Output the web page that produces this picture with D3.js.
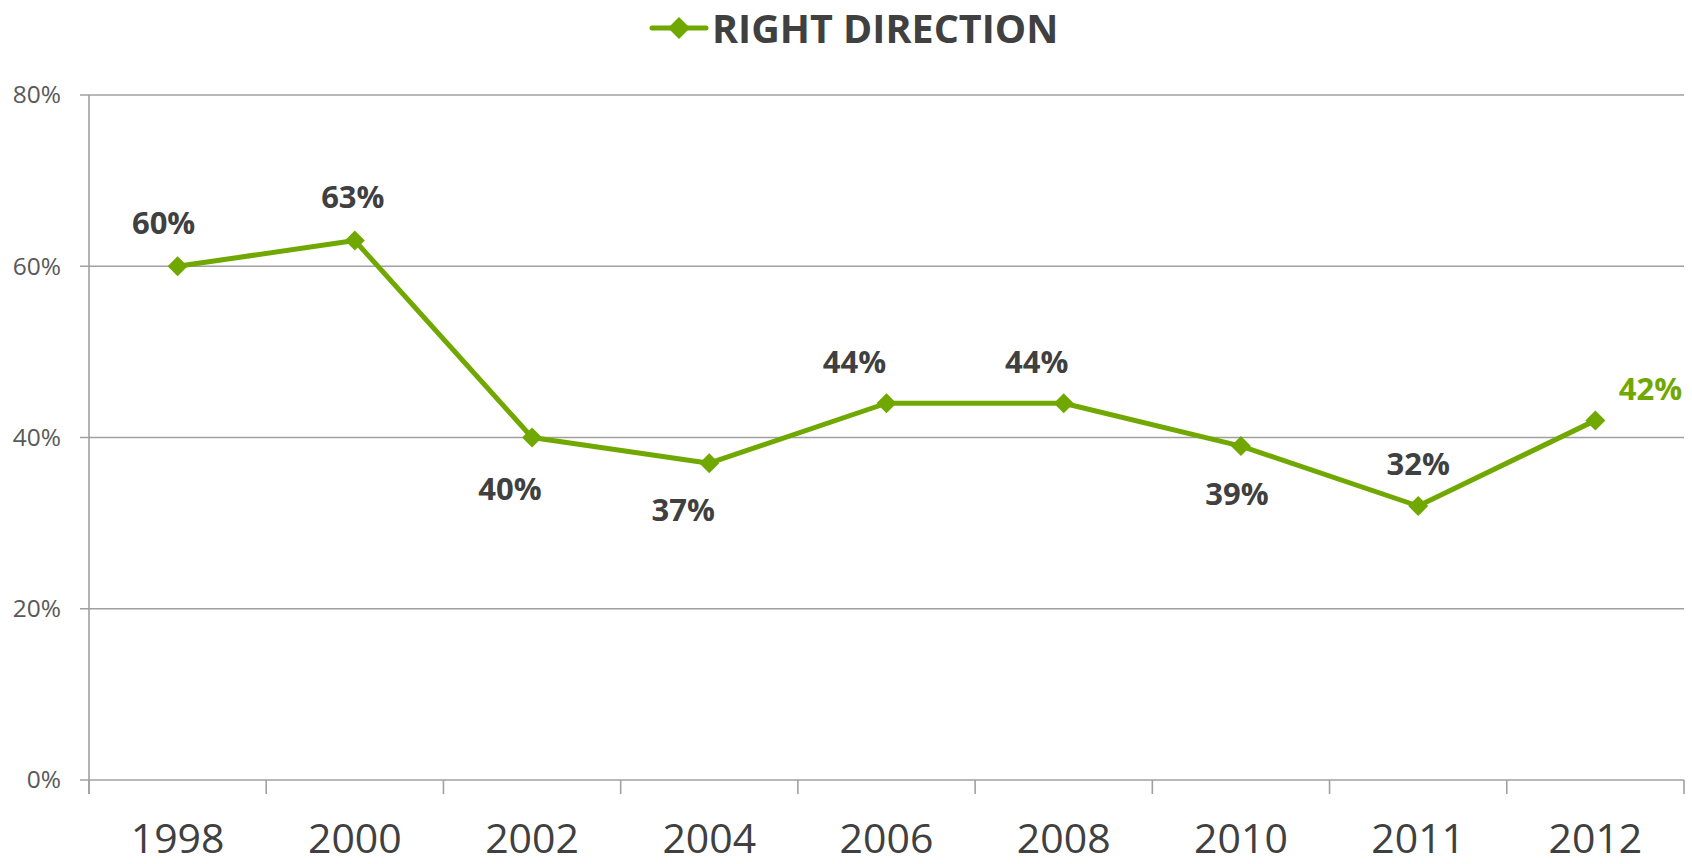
<!DOCTYPE html>
<html>
<head>
<meta charset="utf-8">
<script src="https://cdn.jsdelivr.net/npm/d3@7"></script>
<style>
  html, body { margin: 0; padding: 0; background: #ffffff; }
  svg { display: block; font-family: "Open Sans", "Noto Sans", sans-serif; }
</style>
</head>
<body>
<svg id="chart" width="1692" height="864"></svg>
<script>
// ---- data ----
const years = ["1998", "2000", "2002", "2004", "2006", "2008", "2010", "2011", "2012"];
const rightDirection = [60, 63, 40, 37, 44, 44, 39, 32, 42];
const yTicks = [0, 20, 40, 60, 80];
const seriesName = "RIGHT DIRECTION";

// ---- layout (label placement offsets relative to point) ----
const labelOffsets = [[-14, -32], [-2, -33], [-22, 62], [-26, 58], [-32, -30], [-27, -30], [-4, 59], [0, -31], [55, -20]];

const green = "#71a800";
const gridColor = "#a0a0a0";
const textDark = "#404040";
const textMid = "#595959";

const svg = d3.select("#chart");
const margin = { left: 89, right: 1684, top: 95, bottom: 780 };

const x = d3.scaleBand().domain(years).range([margin.left, margin.right]).padding(0);
const y = d3.scaleLinear().domain([0, 80]).range([margin.bottom, margin.top]);

// gridlines
svg.append("g").selectAll("line.grid")
  .data(yTicks)
  .join("line")
  .attr("x1", margin.left - 9)
  .attr("x2", margin.right)
  .attr("y1", d => y(d))
  .attr("y2", d => y(d))
  .attr("stroke", gridColor)
  .attr("stroke-width", 1.6);

// y axis line
svg.append("line")
  .attr("x1", margin.left).attr("x2", margin.left)
  .attr("y1", y(80)).attr("y2", y(0) + 14)
  .attr("stroke", gridColor).attr("stroke-width", 1.6);

// y axis labels via d3 axis
const yAxis = d3.axisLeft(y).tickValues(yTicks).tickFormat(d => d + "%").tickSize(0).tickPadding(28);
const yg = svg.append("g").attr("transform", `translate(${margin.left},0)`).call(yAxis);
yg.select(".domain").remove();
yg.selectAll("text")
  .attr("fill", textMid)
  .style("font-size", "24.5px")
  .style("font-family", "'Open Sans', sans-serif");

// x axis boundary ticks
const boundaries = years.map(d => x(d)).concat([x.range()[1]]);
svg.append("g").selectAll("line.xtick")
  .data(boundaries)
  .join("line")
  .attr("x1", d => d).attr("x2", d => d)
  .attr("y1", y(0)).attr("y2", y(0) + 14)
  .attr("stroke", gridColor).attr("stroke-width", 1.6);

// x axis labels via d3 axis
const xAxis = d3.axisBottom(x).tickSize(0).tickPadding(0);
const xg = svg.append("g").attr("transform", `translate(0,${y(0)})`).call(xAxis);
xg.select(".domain").remove();
xg.selectAll("text")
  .attr("y", 73)
  .attr("dy", null)
  .attr("fill", textDark)
  .style("font-size", "41px")
  .style("font-family", "'Open Sans', sans-serif");

// line
const cx = d => x(d) + x.bandwidth() / 2;
const pts = years.map((yr, i) => [cx(yr), y(rightDirection[i])]);
svg.append("path")
  .datum(pts)
  .attr("d", d3.line())
  .attr("fill", "none")
  .attr("stroke", green)
  .attr("stroke-width", 5)
  .attr("stroke-linejoin", "round");

// diamond markers
const diamond = (px, py, r) => `M${px},${py - r}L${px + r},${py}L${px},${py + r}L${px - r},${py}Z`;
svg.append("g").selectAll("path.marker")
  .data(pts)
  .join("path")
  .attr("d", d => diamond(d[0], d[1], 10))
  .attr("fill", green);

// data labels
svg.append("g").selectAll("text.lbl")
  .data(pts)
  .join("text")
  .attr("x", (d, i) => d[0] + labelOffsets[i][0])
  .attr("y", (d, i) => d[1] + labelOffsets[i][1])
  .attr("text-anchor", "middle")
  .attr("fill", (d, i) => i === pts.length - 1 ? green : textDark)
  .style("font-size", "31px")
  .style("font-weight", "bold")
  .text((d, i) => rightDirection[i] + "%");

// legend / title
const lg = svg.append("g");
lg.append("line")
  .attr("x1", 652).attr("x2", 706).attr("y1", 28).attr("y2", 28)
  .attr("stroke", green).attr("stroke-width", 5).attr("stroke-linecap", "round");
lg.append("path").attr("d", diamond(679, 28, 11)).attr("fill", green);
lg.append("text")
  .attr("x", 712).attr("y", 43)
  .attr("fill", textDark)
  .style("font-size", "39.5px")
  .style("font-weight", "bold")
  .text(seriesName);
</script>
</body>
</html>
